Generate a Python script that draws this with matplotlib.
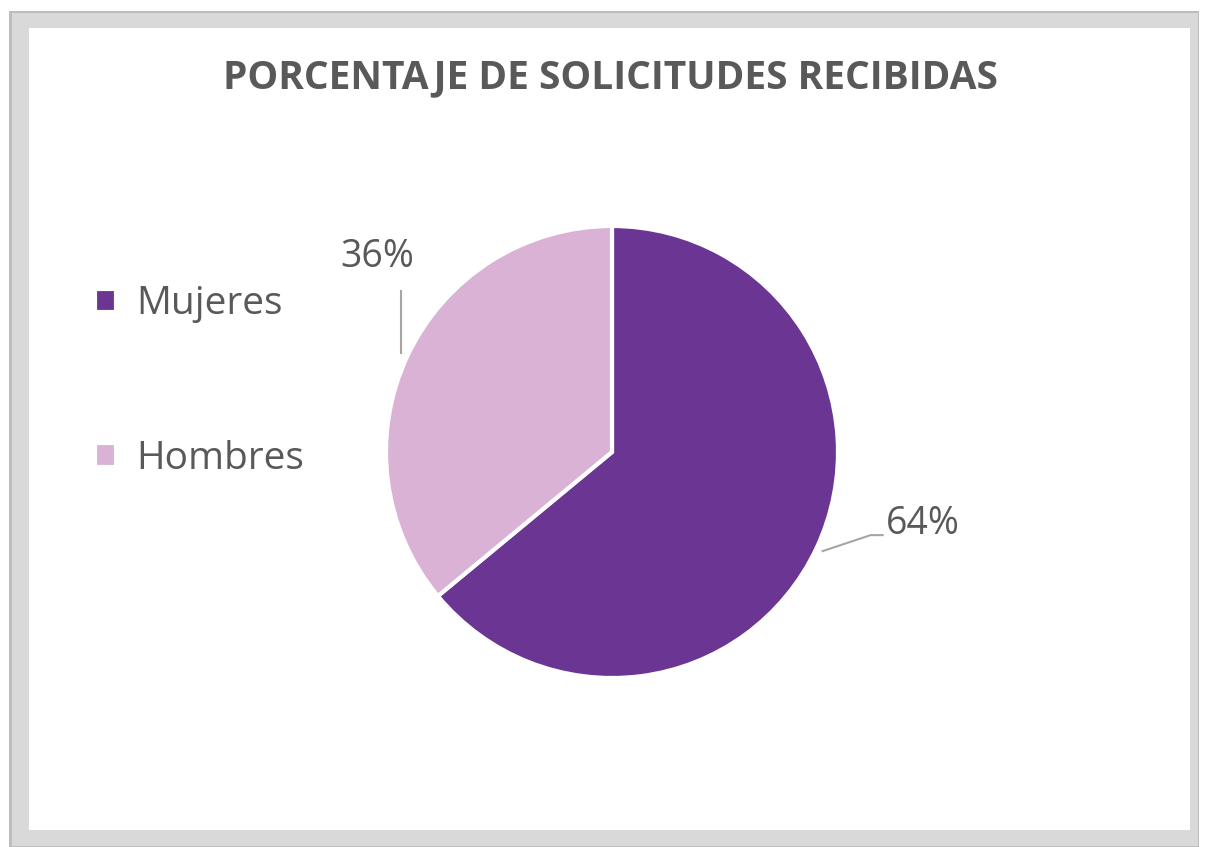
import numpy as np
import matplotlib
matplotlib.use("Agg")
import matplotlib.pyplot as plt
from matplotlib.patches import Rectangle

# datos
categorias = ["Mujeres", "Hombres"]
porcentajes = [64, 36]
colores = ["#6B3594", "#D9B2D5"]
titulo = "PORCENTAJE DE SOLICITUDES RECIBIDAS"

W, H = 1205, 847
fig = plt.figure(figsize=(W / 100, H / 100), dpi=100)
fig.patch.set_facecolor("white")

# marco gris con sombra
ax = fig.add_axes([0, 0, 1, 1])
ax.set_xlim(0, W)
ax.set_ylim(0, H)
ax.axis("off")
ax.add_patch(Rectangle((9, 0), 1190, H - 11, facecolor="#BDBDBD", edgecolor="none", zorder=0))
ax.add_patch(Rectangle((12, 1), 1186, H - 14, facecolor="#D9D9D9", edgecolor="none", zorder=0))
ax.add_patch(Rectangle((29, H - 830), 1161, 802, facecolor="white", edgecolor="none", zorder=0))

# título
ax.text(610, H - 88, titulo, ha="center", va="baseline", fontsize=28,
        fontweight="bold", color="#595959", family="Open Sans")

# pastel
cx, cy, r = 612, H - 452, 226
wedges, _ = ax.pie(porcentajes, colors=colores, startangle=90, counterclock=False,
                   center=(cx, cy), radius=r, frame=True,
                   wedgeprops=dict(edgecolor="white", linewidth=3))
ax.set_xlim(0, W)
ax.set_ylim(0, H)
ax.set_aspect("equal")
ax.axis("off")

# etiquetas con líneas guía
gris = "#595959"
for w, p in zip(wedges, porcentajes):
    ang = np.deg2rad((w.theta1 + w.theta2) / 2)
    x0 = cx + 1.03 * r * np.cos(ang)
    y0 = cy + 1.03 * r * np.sin(ang)
    if np.cos(ang) < 0:
        # 36%: línea vertical hacia arriba
        ax.plot([x0, x0], [y0, y0 + 62], color="#A6A6A6", lw=1.5)
        ax.text(x0 - 24, y0 + 86, f"{p}%", ha="center", va="baseline",
                fontsize=27, color=gris, family="Open Sans")
    else:
        # 64%: línea diagonal hacia la derecha
        ax.plot([x0, x0 + 48, x0 + 60], [y0, y0 + 16, y0 + 16], color="#A6A6A6", lw=1.5)
        ax.text(x0 + 63, y0 + 17, f"{p}%", ha="left", va="baseline",
                fontsize=27, color=gris, family="Open Sans")

# leyenda
leg = ax.legend(wedges, categorias, loc="upper left", bbox_to_anchor=(60 / W, 1 - 250 / H),
                frameon=False, labelcolor=gris, handlelength=0.55,
                handleheight=0.55, handletextpad=0.5, labelspacing=3.0,
                prop=dict(family="Open Sans", size=28))

fig.savefig("out.png", dpi=100, facecolor=fig.get_facecolor())
